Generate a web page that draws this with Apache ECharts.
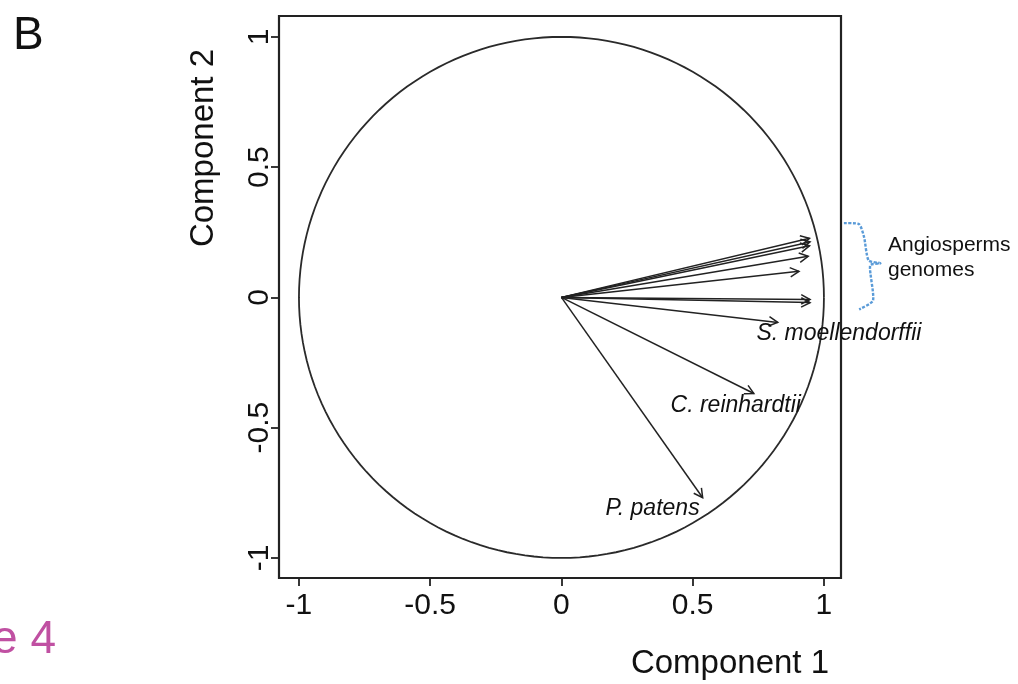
<!DOCTYPE html>
<html><head><meta charset="utf-8">
<script src="https://cdn.jsdelivr.net/npm/echarts@6/dist/echarts.min.js"></script>
<style>html,body{margin:0;padding:0;background:#fff}#c{width:1018px;height:684px}</style>
</head><body><div id="c"></div>
<script>
// ---- data ----
const tickValues = [-1, -0.5, 0, 0.5, 1];
const vectorNames = ['Angiosperm 1','Angiosperm 2','Angiosperm 3','Angiosperm 4','Angiosperm 5','Angiosperm 6','Angiosperm 7','S. moellendorffii','C. reinhardtii','P. patens'];
const vectorX = [0.945, 0.947, 0.945, 0.940, 0.905, 0.947, 0.947, 0.824, 0.733, 0.538];
const vectorY = [0.227, 0.213, 0.198, 0.158, 0.100, -0.008, -0.020, -0.096, -0.369, -0.769];
const speciesLabels = ['S. moellendorffii', 'C. reinhardtii', 'P. patens'];
const speciesLabelX = [1.057, 0.664, 0.347];
const speciesLabelY = [-0.138, -0.415, -0.812];
const groupLabelLines = ['Angiosperms', 'genomes'];
const groupLabelX = [1.244, 1.244];
const groupLabelY = [0.200, 0.104];
const braceX = [1.076, 1.134, 1.153, 1.170, 1.215, 1.176, 1.187, 1.134];
const braceY = [0.285, 0.281, 0.231, 0.142, 0.131, 0.123, -0.012, -0.046];

// ---- build ----
const vecData = vectorX.map((x, i) => [0, 0, x, vectorY[i], vectorNames[i]]);
const FONT = '"Liberation Sans", Arial, Helvetica, sans-serif';
const INK = '#222';

const chart = echarts.init(document.getElementById('c'), null, {renderer: 'canvas'});
chart.setOption({
  animation: false,
  backgroundColor: '#fff',
  grid: {left: 279, right: 177, top: 16, bottom: 106, show: true, borderColor: INK, borderWidth: 2.2, backgroundColor: 'transparent'},
  xAxis: {
    type: 'value', min: -1.076, max: 1.065,
    axisLine: {show: false, onZero: false},
    splitLine: {show: false},
    axisTick: {show: true, length: 8, lineStyle: {color: INK, width: 1.8}, customValues: tickValues},
    axisLabel: {show: true, customValues: tickValues, margin: 13, fontSize: 30, color: '#111', fontFamily: FONT}
  },
  yAxis: {
    type: 'value', min: -1.077, max: 1.08,
    axisLine: {show: false, onZero: false},
    splitLine: {show: false},
    axisTick: {show: true, length: 8, lineStyle: {color: INK, width: 1.8}, customValues: tickValues},
    axisLabel: {show: true, customValues: tickValues, rotate: 90, margin: 4, fontSize: 30, color: '#111', fontFamily: FONT}
  },
  graphic: [
    {type: 'text', left: 13, top: 13, style: {text: 'B', fontSize: 46, fontFamily: FONT, fill: '#111'}},
    {type: 'text', x: 56, y: 663, style: {text: 'e 4', fontSize: 46, fontFamily: FONT, fill: '#c050a2', textAlign: 'right', textVerticalAlign: 'bottom'}},
    {type: 'text', x: 730, y: 680, style: {text: 'Component 1', fontSize: 33, fontFamily: FONT, fill: '#111', textAlign: 'center', textVerticalAlign: 'bottom'}},
    {type: 'text', x: 220, y: 148, rotation: Math.PI / 2, style: {text: 'Component 2', fontSize: 33, fontFamily: FONT, fill: '#111', textAlign: 'center', textVerticalAlign: 'bottom'}}
  ],
  series: [
    {
      type: 'custom', name: 'circle', silent: true, clip: false,
      data: [[0, 0]],
      renderItem: function (params, api) {
        const pts = [];
        for (let k = 0; k <= 360; k += 2) {
          const t = k * Math.PI / 180;
          pts.push(api.coord([Math.cos(t), Math.sin(t)]));
        }
        return {type: 'polyline', shape: {points: pts}, style: {stroke: '#2a2a2a', lineWidth: 1.8, fill: null}};
      }
    },
    {
      type: 'custom', name: 'vectors', silent: true, clip: false,
      encode: {x: [0, 2], y: [1, 3]},
      data: vecData,
      renderItem: function (params, api) {
        const p0 = api.coord([api.value(0), api.value(1)]);
        const p1 = api.coord([api.value(2), api.value(3)]);
        const dx = p1[0] - p0[0], dy = p1[1] - p0[1];
        const len = Math.sqrt(dx * dx + dy * dy);
        const ux = dx / len, uy = dy / len;
        const L = 10, a = 28 * Math.PI / 180;
        const ca = Math.cos(a), sa = Math.sin(a);
        const h1 = [p1[0] - L * (ux * ca - uy * sa), p1[1] - L * (uy * ca + ux * sa)];
        const h2 = [p1[0] - L * (ux * ca + uy * sa), p1[1] - L * (uy * ca - ux * sa)];
        const st = {stroke: '#222', lineWidth: 1.5, fill: null};
        return {type: 'group', children: [
          {type: 'line', shape: {x1: p0[0], y1: p0[1], x2: p1[0], y2: p1[1]}, style: st},
          {type: 'polyline', shape: {points: [h1, p1, h2]}, style: st}
        ]};
      }
    },
    {
      type: 'custom', name: 'speciesLabels', silent: true, clip: false,
      data: speciesLabelX.map((x, i) => [x, speciesLabelY[i], speciesLabels[i]]),
      renderItem: function (params, api) {
        const p = api.coord([api.value(0), api.value(1)]);
        return {type: 'text', x: p[0], y: p[1], style: {text: speciesLabels[params.dataIndex], fontSize: 23, fontStyle: 'italic', fontFamily: FONT, fill: '#111', textAlign: 'center', textVerticalAlign: 'middle'}};
      }
    },
    {
      type: 'custom', name: 'groupLabel', silent: true, clip: false,
      data: groupLabelX.map((x, i) => [x, groupLabelY[i]]),
      renderItem: function (params, api) {
        const p = api.coord([api.value(0), api.value(1)]);
        return {type: 'text', x: p[0], y: p[1], style: {text: groupLabelLines[params.dataIndex], fontSize: 21, fontFamily: FONT, fill: '#111', textAlign: 'left', textVerticalAlign: 'middle'}};
      }
    },
    {
      type: 'custom', name: 'brace', silent: true, clip: false,
      data: [[braceX[0], braceY[0]]],
      renderItem: function (params, api) {
        const pts = braceX.map((x, i) => api.coord([x, braceY[i]]));
        return {type: 'polyline', shape: {points: pts, smooth: 0.2}, style: {stroke: '#5a9bd8', lineWidth: 2.4, fill: null, lineDash: [3, 1.5]}};
      }
    }
  ]
});
</script></body></html>
